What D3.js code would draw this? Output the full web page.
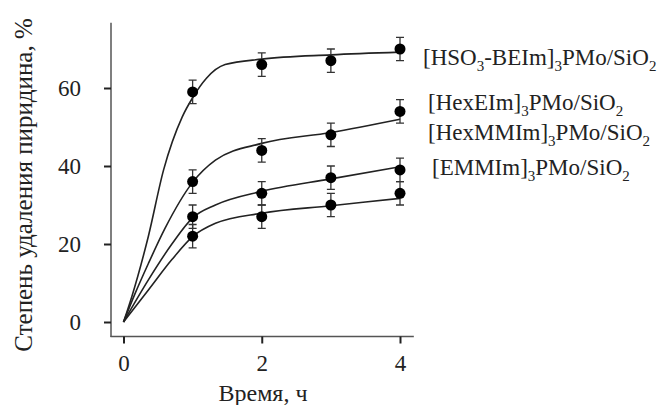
<!DOCTYPE html>
<html>
<head>
<meta charset="utf-8">
<script src="https://cdn.jsdelivr.net/npm/d3@7"></script>
<style>
  body { margin: 0; background: #fff; }
  text { font-family: "Liberation Serif", "Times New Roman", serif; fill: #222; }
</style>
</head>
<body>
<svg id="chart" width="665" height="405"></svg>
<script>
// measured points (hours, % removal)
var times = [1, 2, 3, 4];
var hso3 = [59, 66, 67, 70];
var hexEIm = [36, 44, 48, 54];
var hexMMIm = [27, 33, 37, 39];
var emmIm = [22, 27, 30, 33];
var errs = [3, 3, 3, 3];

// fitted curves
var fitX1 = [0, 0.12, 0.36, 0.58, 0.85, 1, 1.2, 1.47, 2, 3, 4];
var fitY1 = [0, 6.5, 22, 39, 52.6, 57.5, 62.5, 66, 67.4, 68.5, 69.2];
var fitX2 = [0, 0.17, 0.36, 0.6, 1, 1.33, 2, 3, 4];
var fitY2 = [0, 7.4, 15, 24, 35.8, 41.5, 45.8, 48.6, 52];
var fitX3 = [0, 0.36, 0.7, 1, 1.33, 2, 3, 4];
var fitY3 = [0, 10.8, 20, 26.7, 30, 33.5, 36.7, 39.8];
var fitX4 = [0, 0.36, 0.7, 1, 1.33, 2, 3, 4];
var fitY4 = [0, 8.2, 16, 21.9, 25.3, 27.9, 29.8, 31.7];

var xTicks = [0, 2, 4];
var yTicks = [0, 20, 40, 60];

// legend labels: [text, isSubscript]
var labels = [
  [["[HSO", 0], ["3", 1], ["-BEIm]", 0], ["3", 1], ["PMo/SiO", 0], ["2", 1]],
  [["[HexEIm]", 0], ["3", 1], ["PMo/SiO", 0], ["2", 1]],
  [["[HexMMIm]", 0], ["3", 1], ["PMo/SiO", 0], ["2", 1]],
  [["[EMMIm]", 0], ["3", 1], ["PMo/SiO", 0], ["2", 1]]
];

var series = [
  {vals: hso3, fx: fitX1, fy: fitY1},
  {vals: hexEIm, fx: fitX2, fy: fitY2},
  {vals: hexMMIm, fx: fitX3, fy: fitY3},
  {vals: emmIm, fx: fitX4, fy: fitY4}
];

var svg = d3.select('#chart');

var x = d3.scaleLinear().domain([0, 4]).range([123.5, 400]);
var y = d3.scaleLinear().domain([0, 60]).range([322, 88]);

// axis lines (offset, Prism style)
svg.append('line')
  .attr('x1', 111).attr('x2', 111)
  .attr('y1', y(76.7)).attr('y2', 337)
  .attr('stroke', '#555').attr('stroke-width', 1.5);
svg.append('line')
  .attr('x1', 110.5).attr('x2', x(4.2))
  .attr('y1', 336.5).attr('y2', 336.5)
  .attr('stroke', '#555').attr('stroke-width', 1.5);

var yAxis = svg.append('g')
  .attr('transform', 'translate(111,0)')
  .call(d3.axisLeft(y).tickValues(yTicks).tickFormat(d3.format('d'))
    .tickSize(7).tickPadding(23).tickSizeOuter(0));
var xAxis = svg.append('g')
  .attr('transform', 'translate(0,336.5)')
  .call(d3.axisBottom(x).tickValues(xTicks).tickFormat(d3.format('d'))
    .tickSize(7).tickPadding(11).tickSizeOuter(0));

[yAxis, xAxis].forEach(function(a) {
  a.select('.domain').remove();
  a.selectAll('line').attr('stroke', '#222').attr('stroke-width', 2);
  a.selectAll('text')
    .style('font-family', '"Liberation Serif", serif')
    .style('font-size', '23px')
    .attr('fill', '#222');
});

// axis titles
svg.append('text')
  .attr('x', 263).attr('y', 401)
  .attr('text-anchor', 'middle')
  .style('font-size', '24px')
  .text('Время, ч');
svg.append('text')
  .attr('transform', 'translate(32,185) rotate(-90)')
  .attr('text-anchor', 'middle')
  .style('font-size', '25px')
  .text('Степень удаления пиридина, %');

// fitted curves
var line = d3.line()
  .x(function(d) { return x(d[0]); })
  .y(function(d) { return y(d[1]); })
  .curve(d3.curveMonotoneX);

svg.selectAll('.fit')
  .data(series)
  .join('path')
  .attr('class', 'fit')
  .attr('fill', 'none')
  .attr('stroke', '#222')
  .attr('stroke-width', 1.6)
  .attr('d', function(s) {
    return line(s.fx.map(function(v, i) { return [v, s.fy[i]]; }));
  });

// error bars + points
series.forEach(function(s) {
  var g = svg.append('g');
  var pts = times.map(function(t, i) { return {t: t, v: s.vals[i], e: errs[i]}; });
  g.selectAll('.eb')
    .data(pts)
    .join('path')
    .attr('fill', 'none')
    .attr('stroke', '#333')
    .attr('stroke-width', 1.3)
    .attr('d', function(d) {
      var cx = x(d.t), t = y(d.v + d.e), b = y(d.v - d.e);
      return 'M' + (cx - 4) + ',' + t + 'H' + (cx + 4) +
        'M' + cx + ',' + t + 'V' + b +
        'M' + (cx - 4) + ',' + b + 'H' + (cx + 4);
    });
  g.selectAll('circle')
    .data(pts)
    .join('circle')
    .attr('cx', function(d) { return x(d.t); })
    .attr('cy', function(d) { return y(d.v); })
    .attr('r', 5.5)
    .attr('fill', '#000');
});

// legend
var legX = [423, 428, 428, 432];
var legY = [65, 110, 140, 175];
labels.forEach(function(parts, i) {
  var t = svg.append('text')
    .attr('x', legX[i]).attr('y', legY[i])
    .style('font-size', '23px');
  parts.forEach(function(p, j) {
    var prev = j > 0 ? parts[j - 1] : null;
    var dy = 0;
    if (p[1] && !(prev && prev[1])) dy = 6;
    if (!p[1] && prev && prev[1]) dy = -6;
    t.append('tspan')
      .attr('dy', dy)
      .style('font-size', p[1] ? '15px' : '23px')
      .text(p[0]);
  });
});
</script>
</body>
</html>
